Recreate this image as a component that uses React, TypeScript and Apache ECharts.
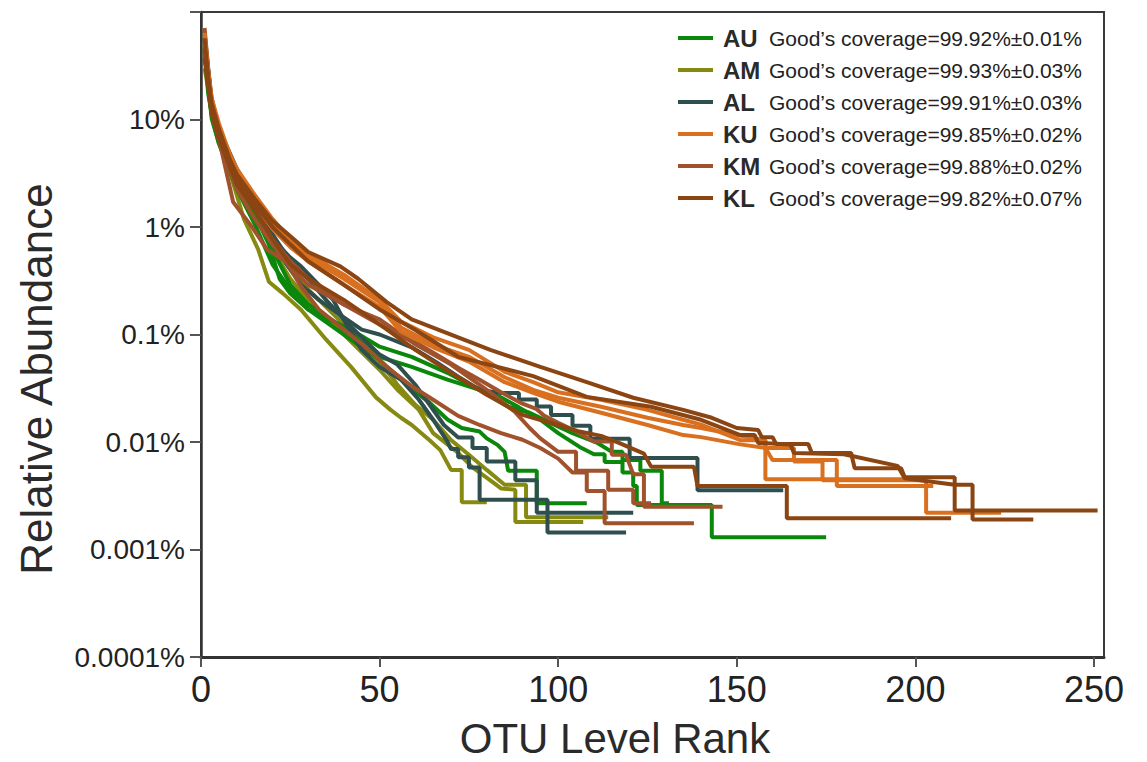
import React, { useEffect, useRef } from "react";
import * as echarts from "echarts";

// ---- Data: [OTU rank, relative abundance in %] ----
const AU1 = [[1,46],[2,17.5],[3,11.4],[5,6.6],[8,3.5],[10,2.5],[15,1.32],[19,0.69],[22,0.33],[25,0.24],[30,0.171],[37,0.132],[42,0.111],[50,0.077],[59,0.062],[69,0.044],[76,0.033],[84,0.026],[89,0.021],[95,0.0161],[100,0.0121],[106,0.009],[110,0.0077],[113,0.0077],[113,0.0065],[118,0.0065],[118,0.0052],[121,0.0052],[121,0.0039],[122,0.0039],[122,0.0026],[143,0.0026],[143,0.0013],[175,0.0013]];
const AU2 = [[1,57],[3,12.2],[5,6.9],[10,2.8],[15,1.47],[20,0.62],[25,0.29],[30,0.19],[40,0.116],[50,0.062],[59,0.05],[69,0.038],[78,0.0306],[86,0.0213],[92,0.0187],[98,0.015],[104,0.0121],[111,0.0098],[115,0.0081],[118,0.0081],[118,0.0068],[123,0.0068],[123,0.0054],[129,0.0054],[129,0.0027],[131,0.0027]];
const AU3 = [[1,41],[3,10.2],[5,6.0],[10,2.27],[15,1.07],[20,0.45],[25,0.26],[30,0.171],[40,0.1],[50,0.058],[59,0.031],[64,0.0232],[69,0.0162],[73,0.0135],[78,0.0125],[80,0.0108],[83,0.0094],[85,0.0081],[86,0.0054],[94,0.0054],[94,0.0027],[108,0.0027]];
const AM1 = [[1,41],[3,10.7],[5,6.0],[8,3.3],[12,1.19],[16,0.62],[19,0.31],[23,0.24],[28,0.17],[35,0.09],[42,0.05],[49,0.026],[53,0.02],[56,0.0168],[59,0.0144],[64,0.0104],[67,0.0084],[70,0.0055],[73,0.0055],[73,0.00275],[80,0.00275]];
const AM2 = [[1,51],[3,11.4],[5,6.6],[10,2.5],[15,1.32],[20,0.62],[25,0.33],[30,0.21],[40,0.1],[50,0.047],[55,0.0306],[61,0.0199],[65,0.0121],[72,0.0079],[76,0.0058],[81,0.0044],[84,0.0037],[88,0.0036],[88,0.0018],[107,0.0018]];
const AM3 = [[1,30],[3,12.7],[5,7.4],[10,2.8],[15,1.47],[20,0.69],[25,0.405],[30,0.263],[40,0.124],[50,0.056],[55,0.0341],[60,0.0222],[65,0.0161],[70,0.0104],[75,0.0076],[80,0.0055],[85,0.004],[91,0.004],[91,0.002],[114,0.002]];
const AL1 = [[1,51],[3,12.7],[5,7.4],[10,3.1],[15,1.64],[20,0.77],[25,0.52],[28,0.43],[33,0.29],[37,0.21],[41,0.119],[45,0.072],[50,0.05],[56,0.038],[61,0.0247],[65,0.0161],[69,0.0101],[70,0.0086],[72,0.0086],[72,0.0072],[75,0.0072],[75,0.0058],[78,0.0058],[78,0.0029],[97,0.0029],[97,0.00144],[119,0.00144]];
const AL2 = [[1,64],[3,14.1],[5,8.2],[10,3.3],[15,1.83],[20,0.86],[25,0.48],[30,0.33],[35,0.21],[40,0.138],[45,0.094],[50,0.065],[55,0.0525],[60,0.0341],[64,0.0222],[68,0.0144],[72,0.011],[76,0.011],[76,0.0088],[80,0.0088],[80,0.0066],[88,0.0066],[88,0.0044],[94,0.0044],[94,0.0022],[121,0.0022]];
const AL3 = [[1,57],[3,14.1],[5,8.2],[10,3.5],[15,1.83],[20,0.75],[23,0.5],[28,0.29],[33,0.21],[40,0.144],[45,0.111],[50,0.1],[59,0.076],[66,0.055],[72,0.0405],[78,0.0306],[84,0.0285],[89,0.0285],[89,0.0249],[94,0.0249],[94,0.0214],[98,0.0214],[98,0.0178],[104,0.0178],[104,0.0142],[109,0.0142],[109,0.0107],[120,0.0107],[120,0.0071],[139,0.0071],[139,0.00356],[163,0.00356]];
const KU1 = [[1,64],[2,27],[3,15.7],[5,9.2],[8,4.8],[10,3.5],[15,2.0],[20,1.19],[25,0.77],[30,0.56],[40,0.36],[50,0.21],[56,0.132],[65,0.094],[75,0.072],[85,0.045],[93,0.036],[100,0.029],[112,0.0247],[125,0.0199],[135,0.0161],[140,0.0145],[151,0.0104],[158,0.0104],[158,0.0088],[166,0.0088],[166,0.0066],[174,0.0066],[174,0.0044],[203,0.0044],[203,0.0022],[224,0.0022]];
const KU2 = [[1,51],[3,14.1],[5,8.2],[10,3.1],[15,1.83],[20,1.07],[25,0.72],[30,0.52],[40,0.33],[50,0.2],[56,0.116],[65,0.081],[75,0.062],[85,0.04],[93,0.0306],[100,0.0258],[112,0.0213],[125,0.0168],[135,0.0144],[140,0.0135],[150,0.0116],[158,0.0104],[158,0.0045],[200,0.0045]];
const KU3 = [[1,46],[3,13.2],[5,7.4],[10,2.9],[15,1.64],[20,0.96],[25,0.65],[30,0.48],[40,0.29],[50,0.18],[56,0.106],[65,0.076],[75,0.056],[85,0.036],[93,0.0287],[100,0.0237],[112,0.0187],[125,0.0144],[135,0.0116],[140,0.0111],[151,0.0095],[158,0.0088],[160,0.0068],[178,0.0068],[178,0.0039],[205,0.0039]];
const KM1 = [[1,71],[2,30],[3,15.7],[5,8.2],[8,3.9],[10,2.8],[15,1.47],[20,0.77],[25,0.48],[30,0.33],[40,0.19],[50,0.124],[55,0.1],[61,0.081],[66,0.065],[72,0.049],[78,0.038],[84,0.029],[90,0.0227],[94,0.0202],[96,0.0176],[100,0.0151],[105,0.0126],[110,0.0101],[115,0.0101],[115,0.0076],[119,0.0076],[121,0.005],[124,0.005],[124,0.0025],[146,0.0025]];
const KM2 = [[1,51],[3,12.7],[5,6.6],[9,1.71],[14,1.03],[18.5,0.62],[24,0.47],[28,0.28],[33,0.171],[40,0.111],[46,0.077],[52,0.05],[59,0.033],[65,0.0247],[72,0.0175],[78,0.0144],[84,0.0121],[90,0.0105],[95,0.0088],[100,0.007],[104,0.0052],[108,0.0052],[108,0.0035],[113,0.0035],[113,0.00175],[138,0.00175]];
const KM3 = [[1,41],[3,11.4],[5,6.6],[10,2.27],[15,1.19],[20,0.69],[25,0.42],[30,0.29],[40,0.19],[50,0.138],[60,0.081],[70,0.0525],[80,0.0306],[88,0.0189],[92,0.0135],[95,0.0108],[100,0.0081],[105,0.0081],[105,0.0054],[114,0.0054],[114,0.0036],[121,0.0036],[121,0.0027],[126,0.0027]];
const KL1 = [[1,57],[2,24],[3,14.1],[5,8.2],[8,4.3],[10,3.1],[15,1.83],[20,1.14],[26,0.77],[30,0.585],[39,0.43],[44,0.33],[52,0.2],[59,0.138],[68,0.106],[81,0.072],[95,0.05],[108,0.036],[121,0.0258],[135,0.0199],[143,0.0168],[150,0.0135],[156,0.0129],[157,0.0111],[160,0.0111],[161,0.0096],[170,0.0096],[171,0.0079],[182,0.0079],[183,0.0057],[196,0.0057],[197,0.0047],[211,0.0047],[211,0.0023],[251,0.0023]];
const KL2 = [[1,46],[3,12.7],[5,7.4],[10,2.8],[15,1.64],[20,1.0],[25,0.69],[30,0.48],[40,0.29],[50,0.171],[60,0.11],[72,0.062],[93,0.041],[108,0.0263],[126,0.0213],[140,0.0161],[151,0.0116],[155,0.0116],[156,0.0098],[165,0.0095],[166,0.0079],[180,0.0077],[195,0.006],[197,0.0046],[211,0.004],[216,0.004],[216,0.0019],[233,0.0019]];
const KL3 = [[1,37],[3,11.4],[5,6.6],[10,2.5],[15,1.47],[20,0.77],[25,0.45],[30,0.33],[40,0.21],[50,0.124],[60,0.072],[70,0.044],[80,0.0275],[90,0.0179],[100,0.0144],[106,0.0125],[112,0.0114],[117,0.0098],[124,0.0078],[126,0.0059],[138,0.0059],[139,0.0039],[164,0.0039],[164,0.00195],[210,0.00195]];

const groupNames = ["AU", "AM", "AL", "KU", "KM", "KL"];
const groupColors = ["#0b870b", "#878a10", "#2f4f4f", "#d9701f", "#a0522d", "#8b4513"];
const coverage = ["99.92%±0.01%", "99.93%±0.03%", "99.91%±0.03%", "99.85%±0.02%", "99.88%±0.02%", "99.82%±0.07%"];
const replicates = [[AU1, AU2, AU3], [AM1, AM2, AM3], [AL1, AL2, AL3], [KU1, KU2, KU3], [KM1, KM2, KM3], [KL1, KL2, KL3]];
const drawOrder = [1, 0, 2, 4, 3, 5];

const xTicks = [0, 50, 100, 150, 200, 250];
const yTickLabels = ["0.0001%", "0.001%", "0.01%", "0.1%", "1%", "10%", ""];

const FONT = "'Liberation Sans', Arial, Helvetica, sans-serif";

export default function App() {
  const ref = useRef<HTMLDivElement>(null);
  useEffect(() => {
    if (!ref.current) return;
    const chart = echarts.init(ref.current, null, { renderer: "svg" });
    const series: any[] = [];
    drawOrder.forEach((gi) => {
      replicates[gi].forEach((d) => {
        series.push({
          type: "line",
          name: groupNames[gi],
          data: d,
          showSymbol: false,
          symbol: "none",
          silent: true,
          color: groupColors[gi],
          itemStyle: { color: groupColors[gi] },
          lineStyle: { color: groupColors[gi], width: 4 },
        });
      });
    });
    chart.setOption({
      animation: false,
      textStyle: { fontFamily: FONT },
      grid: {
        left: 201, right: 43, top: 12, bottom: 105,
        show: true, borderColor: "#3a3a3a", borderWidth: 2, backgroundColor: "transparent",
      },
      legend: {
        data: groupNames,
        orient: "vertical",
        left: 673,
        top: 21,
        itemWidth: 35,
        itemHeight: 4,
        itemGap: 8,
        icon: "rect",
        selectedMode: false,
        formatter: (name: string) => {
          const i = groupNames.indexOf(name);
          return `{n|${name}}{c|Good’s coverage=${coverage[i]}}`;
        },
        textStyle: {
          fontFamily: FONT,
          rich: {
            n: { fontFamily: FONT, fontSize: 24, fontWeight: "bold", color: "#2a2a2a", width: 46, padding: [0, 0, 0, 5], lineHeight: 24 },
            c: { fontFamily: FONT, fontSize: 21, color: "#222", lineHeight: 24 },
          },
        },
      },
      xAxis: {
        type: "value",
        min: 0,
        max: 252.8,
        interval: 50,
        splitLine: { show: false },
        axisLine: { show: true, lineStyle: { color: "#333", width: 3 } },
        axisTick: { show: true, length: 10, customValues: xTicks, lineStyle: { color: "#555", width: 2 } },
        axisLabel: {
          customValues: xTicks,
          fontSize: 36, color: "#222", margin: 14, fontFamily: FONT,
          formatter: (v: number) => (xTicks.includes(Math.round(v)) && Math.abs(v - Math.round(v)) < 1e-6 ? String(Math.round(v)) : ""),
        },
      },
      yAxis: {
        type: "log",
        logBase: 10,
        min: 0.0001,
        max: 100,
        splitLine: { show: false },
        minorTick: { show: false },
        axisLine: { show: true, lineStyle: { color: "#333", width: 2.5 } },
        axisTick: { show: true, length: 11, lineStyle: { color: "#555", width: 2 } },
        axisLabel: {
          fontSize: 28, color: "#222", margin: 16, fontFamily: FONT,
          formatter: (v: number) => {
            const e = Math.round(Math.log10(v));
            return yTickLabels[e + 4] ?? "";
          },
        },
      },
      graphic: [
        {
          type: "text",
          x: 36, y: 379,
          rotation: Math.PI / 2,
          style: { text: "Relative Abundance", font: `44px ${FONT}`, fill: "#2a2a2a", align: "center", verticalAlign: "middle" },
        },
        {
          type: "text",
          x: 615, y: 738,
          style: { text: "OTU Level Rank", font: `42px ${FONT}`, fill: "#2a2a2a", align: "center", verticalAlign: "middle" },
        },
      ],
      series,
    });
    return () => chart.dispose();
  }, []);
  return <div ref={ref} style={{ position: "fixed", left: 0, top: 0, width: 1147, height: 762, background: "#fff" }} />;
}
